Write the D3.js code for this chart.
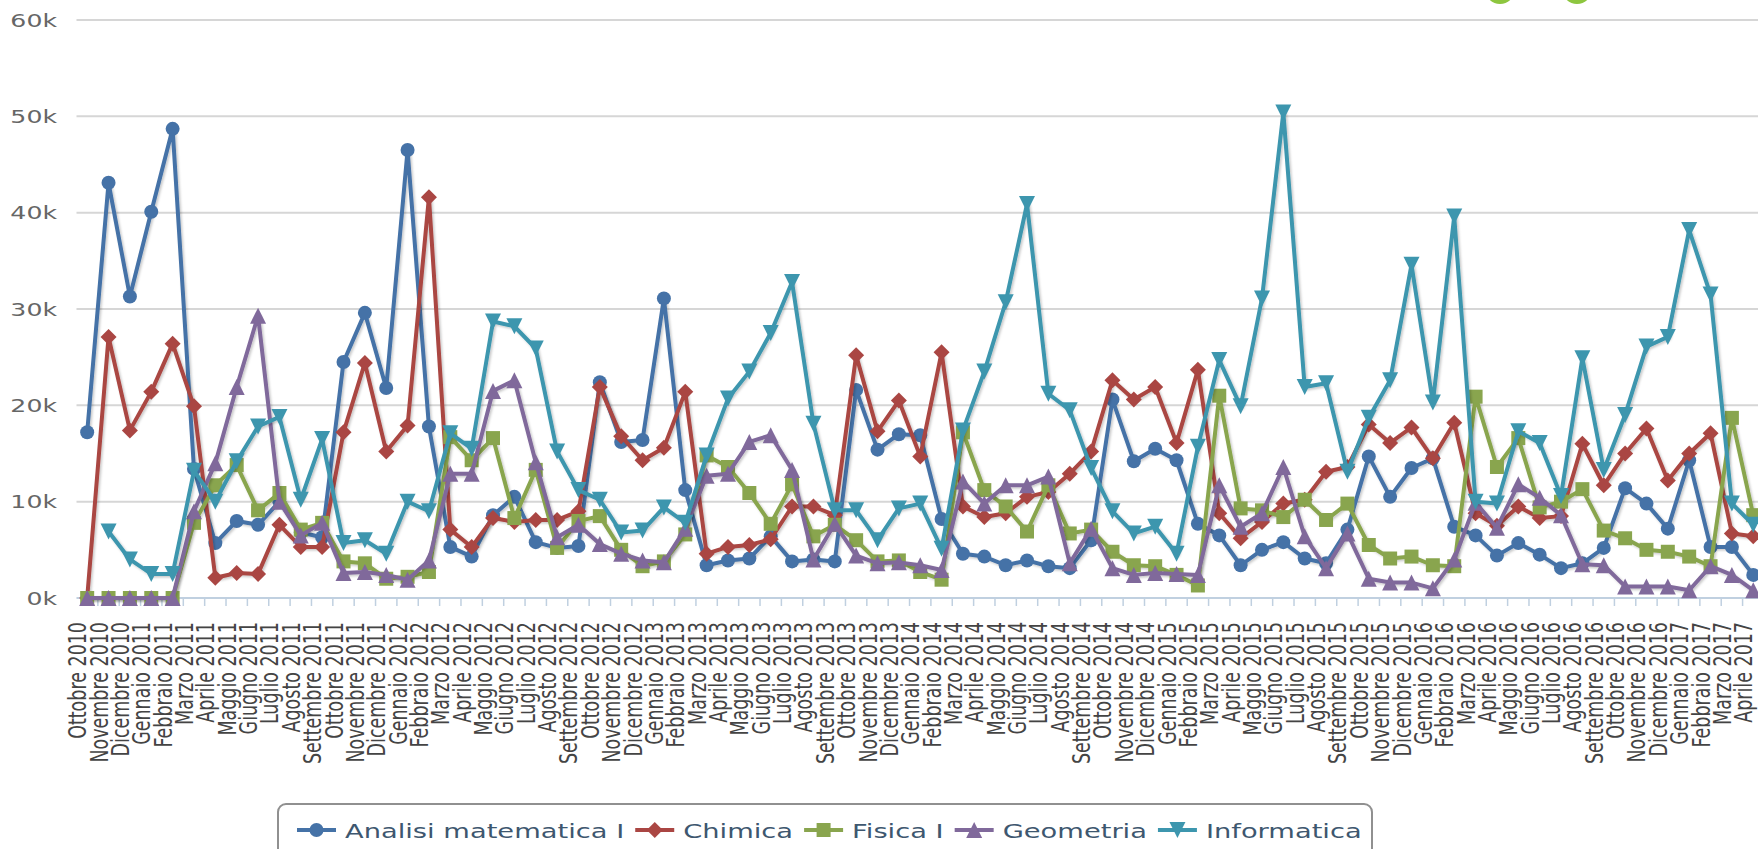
<!DOCTYPE html>
<html lang="it">

<head>
  <meta charset="utf-8">
  <title>Esami per mese</title>
  <script src="https://cdnjs.cloudflare.com/ajax/libs/d3/7.6.1/d3.min.js"></script>
  <style>
    html, body { margin: 0; padding: 0; background: #fff; overflow: hidden; }
    text { font-family: "DejaVu Sans", Verdana, sans-serif; }
  </style>
</head>

<body>

  <div id="chart"></div>

  <script>
    // categories (months)
    const categories = [
      'Ottobre 2010', 'Novembre 2010', 'Dicembre 2010',
      'Gennaio 2011', 'Febbraio 2011', 'Marzo 2011', 'Aprile 2011', 'Maggio 2011', 'Giugno 2011',
      'Luglio 2011', 'Agosto 2011', 'Settembre 2011', 'Ottobre 2011', 'Novembre 2011', 'Dicembre 2011',
      'Gennaio 2012', 'Febbraio 2012', 'Marzo 2012', 'Aprile 2012', 'Maggio 2012', 'Giugno 2012',
      'Luglio 2012', 'Agosto 2012', 'Settembre 2012', 'Ottobre 2012', 'Novembre 2012', 'Dicembre 2012',
      'Gennaio 2013', 'Febbraio 2013', 'Marzo 2013', 'Aprile 2013', 'Maggio 2013', 'Giugno 2013',
      'Luglio 2013', 'Agosto 2013', 'Settembre 2013', 'Ottobre 2013', 'Novembre 2013', 'Dicembre 2013',
      'Gennaio 2014', 'Febbraio 2014', 'Marzo 2014', 'Aprile 2014', 'Maggio 2014', 'Giugno 2014',
      'Luglio 2014', 'Agosto 2014', 'Settembre 2014', 'Ottobre 2014', 'Novembre 2014', 'Dicembre 2014',
      'Gennaio 2015', 'Febbraio 2015', 'Marzo 2015', 'Aprile 2015', 'Maggio 2015', 'Giugno 2015',
      'Luglio 2015', 'Agosto 2015', 'Settembre 2015', 'Ottobre 2015', 'Novembre 2015', 'Dicembre 2015',
      'Gennaio 2016', 'Febbraio 2016', 'Marzo 2016', 'Aprile 2016', 'Maggio 2016', 'Giugno 2016',
      'Luglio 2016', 'Agosto 2016', 'Settembre 2016', 'Ottobre 2016', 'Novembre 2016', 'Dicembre 2016',
      'Gennaio 2017', 'Febbraio 2017', 'Marzo 2017', 'Aprile 2017'
    ];

    // series values (thousands)
    const analisi = [
      17.2, 43.1, 31.3, 40.1, 48.7, 13.4, 5.7, 8.0, 7.6, 10.0, 6.8, 6.3, 24.5, 29.6, 21.8, 46.5,
      17.8, 5.3, 4.3, 8.6, 10.5, 5.8, 5.2, 5.4, 22.4, 16.2, 16.4, 31.1, 11.2, 3.4, 3.9, 4.1,
      6.4, 3.8, 4.0, 3.8, 21.6, 15.4, 17.0, 16.9, 8.2, 4.6, 4.3, 3.4, 3.9, 3.3, 3.1, 6.0,
      20.6, 14.2, 15.5, 14.3, 7.7, 6.5, 3.4, 5.0, 5.8, 4.1, 3.6, 7.1, 14.7, 10.5, 13.5, 14.5,
      7.4, 6.5, 4.4, 5.7, 4.5, 3.1, 3.6, 5.2, 11.4, 9.8, 7.2, 14.3, 5.3, 5.3, 2.4
    ];
    const chimica = [
      0, 27.1, 17.4, 21.4, 26.4, 19.9, 2.1, 2.6, 2.5, 7.6, 5.3, 5.3, 17.2, 24.4, 15.2, 17.9,
      41.6, 7.1, 5.3, 8.3, 7.9, 8.1, 8.1, 9.0, 21.9, 16.8, 14.3, 15.6, 21.4, 4.6, 5.3, 5.5,
      6.1, 9.5, 9.5, 8.6, 25.2, 17.3, 20.5, 14.7, 25.5, 9.5, 8.4, 8.8, 10.5, 11.0, 12.9, 15.2,
      22.6, 20.6, 21.9, 16.1, 23.7, 8.8, 6.2, 7.9, 9.8, 10.2, 13.1, 13.6, 18.0, 16.1, 17.7, 14.5,
      18.2, 8.8, 7.5, 9.5, 8.3, 8.5, 16.0, 11.7, 15.0, 17.6, 12.2, 15.0, 17.1, 6.7, 6.4
    ];
    const fisica = [
      0, 0, 0, 0, 0, 7.8, 11.7, 13.8, 9.1, 10.9, 7.1, 7.8, 3.8, 3.6, 2.0, 2.2,
      2.7, 16.7, 14.3, 16.6, 8.3, 13.3, 5.2, 8.0, 8.5, 5.0, 3.3, 3.8, 6.6, 14.8, 13.6, 10.9,
      7.7, 11.8, 6.4, 7.6, 6.0, 3.8, 3.9, 2.7, 1.9, 17.2, 11.2, 9.5, 6.9, 11.7, 6.7, 7.1,
      4.8, 3.4, 3.3, 2.4, 1.3, 21.0, 9.3, 9.1, 8.4, 10.2, 8.1, 9.8, 5.5, 4.1, 4.3, 3.4,
      3.3, 20.9, 13.6, 16.6, 9.4, 10.0, 11.3, 7.0, 6.2, 5.0, 4.8, 4.3, 3.3, 18.7, 8.6
    ];
    const geometria = [
      0, 0, 0, 0, 0, 9.0, 14.0, 21.9, 29.3, 10.0, 6.5, 7.8, 2.6, 2.7, 2.4, 1.9,
      3.9, 12.9, 12.9, 21.5, 22.6, 14.1, 6.3, 7.6, 5.6, 4.6, 3.9, 3.7, 7.2, 12.7, 12.9, 16.2,
      16.9, 13.3, 4.0, 7.7, 4.4, 3.6, 3.7, 3.4, 2.9, 12.1, 9.8, 11.7, 11.7, 12.6, 3.6, 7.2,
      3.1, 2.4, 2.6, 2.5, 2.4, 11.7, 7.4, 8.8, 13.6, 6.4, 3.1, 6.7, 2.0, 1.6, 1.6, 1.0,
      4.0, 9.9, 7.3, 11.8, 10.4, 8.6, 3.5, 3.4, 1.2, 1.2, 1.2, 0.8, 3.3, 2.4, 0.8
    ];
    const informatica = [
      null, 6.9, 4.0, 2.5, 2.5, 13.2, 10.0, 14.2, 17.8, 18.8, 10.2, 16.5, 5.7, 6.0, 4.6, 10.0,
      9.0, 17.1, 15.5, 28.7, 28.2, 25.9, 15.2, 11.2, 10.2, 6.8, 7.0, 9.4, 7.8, 14.8, 20.7, 23.5,
      27.5, 32.8, 18.1, 9.1, 9.1, 6.0, 9.3, 9.8, 5.1, 17.4, 23.5, 30.7, 40.9, 21.2, 19.5, 13.5,
      9.0, 6.7, 7.4, 4.6, 15.7, 24.7, 19.9, 31.1, 50.4, 21.9, 22.3, 13.1, 18.7, 22.6, 34.6, 20.3,
      39.6, 10.0, 9.8, 17.3, 16.1, 10.6, 24.9, 13.3, 19.0, 26.1, 27.1, 38.2, 31.5, 9.8, 7.6
    ];

    const seriesNames = ['Analisi matematica I', 'Chimica', 'Fisica I', 'Geometria', 'Informatica'];
    const yTicks = [0, 10, 20, 30, 40, 50, 60];

    const colors = ['#4572A7', '#AA4643', '#89A54E', '#80699B', '#3D96AE'];

    const series = [analisi, chimica, fisica, geometria, informatica].map((values, i) => ({
      name: seriesNames[i],
      color: colors[i],
      symbol: ['circle', 'diamond', 'square', 'triangle', 'triangle-down'][i],
      points: values.map((v, j) => ({ cat: categories[j], v: v }))
    }));

    // marker shapes, sized by half-width
    const symbolTypes = {
      'circle': { draw(ctx, r) { ctx.arc(0, 0, r, 0, 2 * Math.PI); } },
      'diamond': { draw(ctx, r) { ctx.moveTo(0, -r); ctx.lineTo(r, 0); ctx.lineTo(0, r); ctx.lineTo(-r, 0); ctx.closePath(); } },
      'square': { draw(ctx, r) { ctx.rect(-r, -r, 2 * r, 2 * r); } },
      'triangle': { draw(ctx, r) { ctx.moveTo(0, -r); ctx.lineTo(r, r); ctx.lineTo(-r, r); ctx.closePath(); } },
      'triangle-down': { draw(ctx, r) { ctx.moveTo(-r, -r); ctx.lineTo(r, -r); ctx.lineTo(0, r); ctx.closePath(); } }
    };
    const symbolSize = { 'circle': 7, 'diamond': 8, 'square': 7, 'triangle': 8, 'triangle-down': 8 };

    createChart('#chart', 1758, 849);

    function createChart(elementId, width, height) {

      const plotLeft = 76.5;
      const band = 21.36;
      const stretch = 1.4; // text in the picture is drawn wide

      const svg = d3.select(elementId)
        .append('svg')
        .attr('width', width)
        .attr('height', height)
        .style('display', 'block')
        .style('background-color', '#fff');

      const defs = svg.append('defs');
      defs.append('filter')
        .attr('id', 'shadow')
        .attr('x', '-5%').attr('y', '-5%').attr('width', '110%').attr('height', '110%')
        .append('feDropShadow')
        .attr('dx', 1.5).attr('dy', 1.5)
        .attr('stdDeviation', 1.2)
        .attr('flood-color', '#000')
        .attr('flood-opacity', 0.22);

      // scales

      const xScale = d3.scaleBand()
        .domain(categories)
        .range([plotLeft, plotLeft + band * categories.length])
        .padding(0);
      const xc = c => xScale(c) + xScale.bandwidth() / 2;

      const yScale = d3.scaleLinear()
        .domain([0, 60])
        .range([598, 20]);

      // grid lines and y labels

      const yAxis = svg.append('g');
      yAxis.selectAll('line')
        .data(yTicks.filter(t => t > 0))
        .enter()
        .append('line')
        .attr('x1', plotLeft).attr('x2', width)
        .attr('y1', t => yScale(t)).attr('y2', t => yScale(t))
        .attr('stroke', '#d6d6d6')
        .attr('stroke-width', 2);

      yAxis.selectAll('text')
        .data(yTicks)
        .enter()
        .append('text')
        .attr('text-anchor', 'end')
        .attr('transform', t => `translate(57, ${yScale(t) + 6.5}) scale(${stretch}, 1)`)
        .attr('font-size', 18)
        .attr('fill', '#666')
        .text(t => t + 'k');

      // x axis

      const xAxis = svg.append('g');
      xAxis.append('line')
        .attr('x1', plotLeft).attr('x2', width)
        .attr('y1', yScale(0)).attr('y2', yScale(0))
        .attr('stroke', '#C0D0E0')
        .attr('stroke-width', 2);

      xAxis.selectAll('.tick')
        .data(categories)
        .enter()
        .append('line')
        .attr('class', 'tick')
        .attr('x1', c => xScale(c) + xScale.bandwidth()).attr('x2', c => xScale(c) + xScale.bandwidth())
        .attr('y1', yScale(0)).attr('y2', yScale(0) + 8)
        .attr('stroke', '#C0D0E0')
        .attr('stroke-width', 1.5);

      xAxis.selectAll('text')
        .data(categories)
        .enter()
        .append('text')
        .attr('text-anchor', 'end')
        .attr('transform', c => `translate(${xc(c) - 1}, 622) scale(${stretch}, 1) rotate(-90)`)
        .attr('font-size', 17.5)
        .attr('fill', '#444')
        .text(c => c);

      // series

      const line = d3.line()
        .defined(d => d.v !== null)
        .x(d => xc(d.cat))
        .y(d => yScale(d.v));

      series.forEach(s => {
        const g = svg.append('g');
        g.append('path')
          .datum(s.points)
          .attr('d', line)
          .attr('fill', 'none')
          .attr('stroke', s.color)
          .attr('stroke-width', 4)
          .attr('stroke-linejoin', 'round')
          .attr('filter', 'url(#shadow)');

        g.selectAll('path.marker')
          .data(s.points.filter(d => d.v !== null))
          .enter()
          .append('path')
          .attr('class', 'marker')
          .attr('transform', d => `translate(${xc(d.cat)}, ${yScale(d.v)})`)
          .attr('d', d3.symbol(symbolTypes[s.symbol], symbolSize[s.symbol]))
          .attr('fill', s.color);
      });

      // legend

      const legend = svg.append('g');
      legend.append('rect')
        .attr('x', 278).attr('y', 804)
        .attr('width', 1094).attr('height', 70)
        .attr('rx', 8)
        .attr('fill', '#fff')
        .attr('stroke', '#909090')
        .attr('stroke-width', 2);

      let lx = 297;
      series.forEach(s => {
        const item = legend.append('g');
        item.append('line')
          .attr('x1', lx).attr('x2', lx + 39)
          .attr('y1', 830).attr('y2', 830)
          .attr('stroke', s.color)
          .attr('stroke-width', 4);
        item.append('path')
          .attr('transform', `translate(${lx + 19.5}, 830)`)
          .attr('d', d3.symbol(symbolTypes[s.symbol], symbolSize[s.symbol]))
          .attr('fill', s.color);
        const label = item.append('text')
          .attr('transform', `translate(${lx + 48}, 838) scale(${stretch}, 1)`)
          .attr('font-size', 19.5)
          .attr('fill', '#3E576F')
          .text(s.name);
        lx += 48 + label.node().getComputedTextLength() * stretch + 11;
      });

      // green decorations cut off at the top of the picture
      svg.selectAll('circle.deco')
        .data([1500, 1577])
        .enter()
        .append('circle')
        .attr('class', 'deco')
        .attr('cx', d => d).attr('cy', -11)
        .attr('r', 15)
        .attr('fill', '#8DC63F');
    }
  </script>

</body>

</html>
